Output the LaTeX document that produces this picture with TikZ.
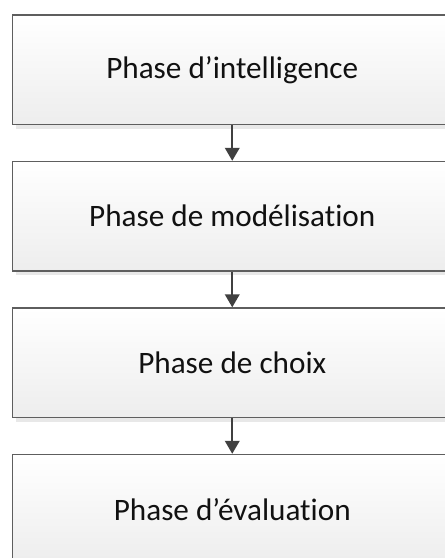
\documentclass[tikz,border=0pt]{standalone}
\usepackage{fontspec}
\setmainfont{Carlito}[Ligatures=CommonOff]
\usetikzlibrary{arrows.meta,shadows}
\definecolor{boxline}{HTML}{5E5E5E}
\definecolor{arrowcol}{HTML}{404040}
\definecolor{textcol}{HTML}{111111}
\begin{document}
\begin{tikzpicture}[x=1pt,y=-1pt,
  phasebox/.style={draw=boxline, line width=1.4pt, top color=white, bottom color=black!7,
    minimum width=439.5pt, minimum height=109.5pt, inner sep=0pt,
    text=textcol, font=\fontsize{31.2}{37}\selectfont,
    drop shadow={shadow xshift=3.5pt, shadow yshift=-4pt, fill=black!9, opacity=1}},
  flowarrow/.style={draw=arrowcol, line width=2.2pt, -{Triangle[width=14.5pt,length=13pt]}}]
\useasboundingbox (0,0) rectangle (445,558);
\fill[white] (0,0) rectangle (445,558);
\node[phasebox] (p1) at (232.25,69.75) {Phase d’intelligence};
\node[phasebox] (p2) at (232.25,216.25) {Phase de modélisation};
\node[phasebox] (p3) at (232.25,362.75) {Phase de choix};
\node[phasebox] (p4) at (232.25,509.25) {Phase d’évaluation};
\draw[flowarrow] (p1.south) -- (p2.north);
\draw[flowarrow] (p2.south) -- (p3.north);
\draw[flowarrow] (p3.south) -- (p4.north);
\end{tikzpicture}
\end{document}
